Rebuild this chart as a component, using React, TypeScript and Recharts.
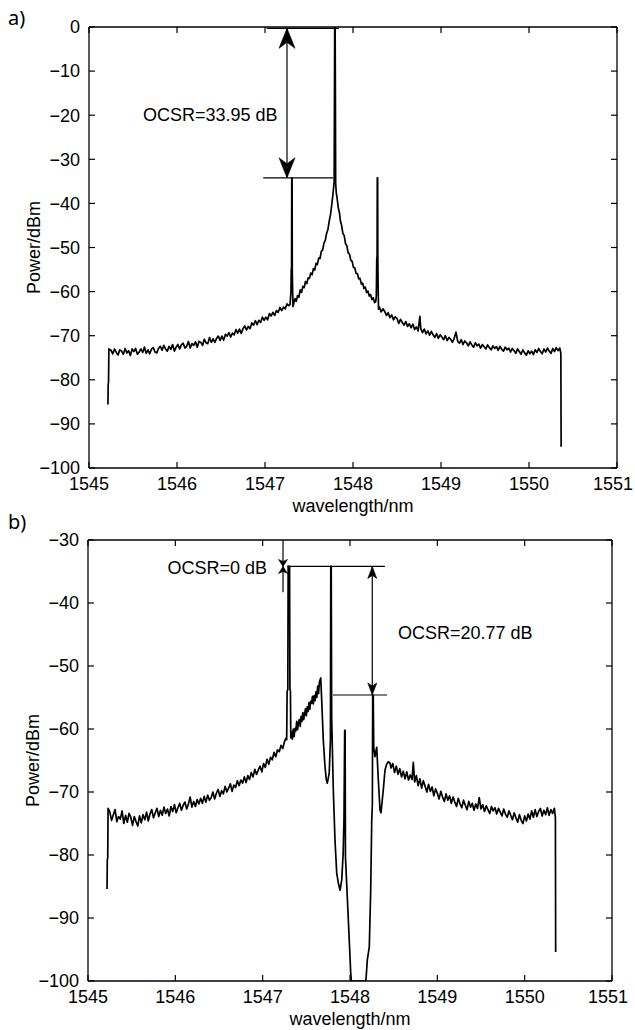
import React from 'react';
import { LineChart, Line, XAxis, YAxis, ReferenceLine, ReferenceDot, Label } from 'recharts';

const FONT = '"Liberation Sans", Arial, Helvetica, sans-serif';

// ---------- tick labels ----------
const wavelengthTicks = [1545, 1546, 1547, 1548, 1549, 1550, 1551];
const powerTicksA = [0, -10, -20, -30, -40, -50, -60, -70, -80, -90, -100];
const powerTicksB = [-30, -40, -50, -60, -70, -80, -90, -100];

// ---------- spectrum a): [wavelength nm, power dBm] ----------
const spectrumA: [number, number][] = [
  [1545.215, -85.6], [1545.218, -81.0], [1545.222, -80.6], [1545.226, -73.0],
  [1545.25, -73.3], [1545.27, -74.1], [1545.29, -73.0], [1545.31, -73.8], [1545.33, -74.4],
  [1545.35, -73.2], [1545.37, -73.5], [1545.39, -74.2], [1545.41, -72.9], [1545.43, -73.9],
  [1545.45, -73.4], [1545.47, -74.5], [1545.49, -73.0], [1545.51, -73.6], [1545.53, -72.9],
  [1545.55, -74.2], [1545.57, -73.7], [1545.59, -73.0], [1545.61, -73.8], [1545.63, -72.6],
  [1545.65, -74.0], [1545.67, -73.2], [1545.69, -74.1], [1545.71, -73.0], [1545.73, -72.7],
  [1545.75, -73.7], [1545.77, -73.9], [1545.79, -72.9], [1545.81, -72.4], [1545.83, -73.3],
  [1545.85, -72.2], [1545.87, -73.0], [1545.89, -73.5], [1545.91, -72.4], [1545.93, -73.1],
  [1545.95, -72.0], [1545.97, -73.5], [1545.99, -72.6], [1546.01, -72.0], [1546.03, -73.0],
  [1546.05, -72.1], [1546.07, -71.7], [1546.09, -72.8], [1546.11, -72.4], [1546.13, -71.3],
  [1546.15, -72.8], [1546.17, -71.8], [1546.19, -72.2], [1546.21, -71.4], [1546.23, -72.6],
  [1546.25, -71.3], [1546.27, -71.5], [1546.29, -72.2], [1546.31, -70.8], [1546.33, -71.6],
  [1546.35, -71.8], [1546.37, -70.4], [1546.39, -71.5], [1546.41, -70.7], [1546.43, -71.5],
  [1546.45, -70.6], [1546.47, -70.1], [1546.49, -71.1], [1546.51, -70.1], [1546.53, -71.0],
  [1546.55, -69.7], [1546.57, -70.1], [1546.59, -69.3], [1546.61, -70.3], [1546.63, -69.4],
  [1546.65, -69.8], [1546.67, -68.6], [1546.69, -69.4], [1546.71, -68.5], [1546.73, -69.5],
  [1546.75, -68.4], [1546.77, -67.8], [1546.79, -68.7], [1546.81, -67.9], [1546.83, -68.4],
  [1546.85, -67.1], [1546.87, -67.6], [1546.89, -66.6], [1546.91, -67.5], [1546.93, -66.5],
  [1546.95, -67.0], [1546.97, -65.8], [1546.99, -66.5], [1547.01, -65.8], [1547.03, -66.4],
  [1547.05, -65.0], [1547.07, -65.5], [1547.09, -64.7], [1547.11, -65.4], [1547.13, -64.3],
  [1547.15, -64.7], [1547.17, -63.6], [1547.19, -64.3], [1547.21, -63.5], [1547.23, -63.9],
  [1547.25, -62.8], [1547.27, -63.2], [1547.285, -62.9],
  [1547.295, -60.0], [1547.298, -55.0], [1547.302, -54.6], [1547.304, -34.2], [1547.308, -34.2],
  [1547.310, -55.2], [1547.314, -59.8], [1547.318, -63.4],
  [1547.325, -62.8], [1547.34, -61.6], [1547.355, -62.2], [1547.37, -60.9], [1547.385, -61.3],
  [1547.40, -59.6], [1547.415, -60.2], [1547.43, -58.8], [1547.445, -59.1], [1547.46, -57.7],
  [1547.475, -58.2], [1547.49, -56.9], [1547.505, -57.0], [1547.52, -55.8], [1547.535, -56.2],
  [1547.55, -54.8], [1547.565, -55.1], [1547.58, -53.6], [1547.595, -53.9], [1547.61, -52.4],
  [1547.625, -52.5], [1547.64, -50.9], [1547.655, -50.6], [1547.67, -49.0], [1547.685, -48.4],
  [1547.70, -46.8], [1547.715, -45.9], [1547.73, -44.0], [1547.745, -42.5], [1547.758, -40.4],
  [1547.77, -38.3], [1547.779, -36.5], [1547.786, -35.0], [1547.789, -18.0],
  [1547.792, -0.2], [1547.797, -0.2], [1547.800, -16.0],
  [1547.803, -35.4], [1547.81, -37.6], [1547.82, -38.9], [1547.832, -40.9], [1547.845, -42.0],
  [1547.858, -44.1], [1547.87, -44.9], [1547.885, -46.8], [1547.90, -47.3], [1547.915, -49.1],
  [1547.93, -49.6], [1547.945, -51.2], [1547.96, -51.5], [1547.975, -52.9], [1547.99, -53.1],
  [1548.005, -54.5], [1548.02, -54.6], [1548.035, -55.9], [1548.05, -55.9], [1548.065, -57.1],
  [1548.08, -57.0], [1548.095, -58.3], [1548.11, -58.1], [1548.125, -59.3], [1548.14, -59.0],
  [1548.155, -60.2], [1548.17, -59.9], [1548.185, -61.0], [1548.20, -60.7], [1548.215, -61.8],
  [1548.23, -61.4], [1548.245, -62.5], [1548.258, -62.3],
  [1548.265, -61.0], [1548.270, -52.5], [1548.274, -52.0], [1548.276, -34.2], [1548.280, -34.2],
  [1548.282, -52.0], [1548.285, -58.0], [1548.290, -64.0],
  [1548.30, -63.5], [1548.32, -64.6], [1548.34, -63.9], [1548.36, -64.5], [1548.38, -65.4],
  [1548.40, -64.8], [1548.42, -65.9], [1548.44, -65.3], [1548.46, -66.4], [1548.48, -65.7],
  [1548.50, -66.1], [1548.52, -67.2], [1548.54, -66.3], [1548.56, -67.0], [1548.58, -67.6],
  [1548.60, -66.8], [1548.62, -67.9], [1548.64, -67.3], [1548.66, -68.2], [1548.68, -67.4],
  [1548.70, -68.6], [1548.72, -68.0], [1548.74, -68.9], [1548.76, -65.6], [1548.77, -68.4],
  [1548.79, -69.3], [1548.81, -68.5], [1548.83, -69.6], [1548.85, -68.9], [1548.87, -69.9],
  [1548.89, -69.0], [1548.91, -69.8], [1548.93, -70.4], [1548.95, -69.5], [1548.97, -70.6],
  [1548.99, -69.8], [1549.01, -70.3], [1549.03, -70.9], [1549.05, -70.0], [1549.07, -71.1],
  [1549.09, -70.4], [1549.11, -70.8], [1549.13, -71.5], [1549.15, -70.6], [1549.17, -69.2],
  [1549.19, -71.3], [1549.21, -71.7], [1549.23, -70.9], [1549.25, -72.0], [1549.27, -71.2],
  [1549.29, -71.6], [1549.31, -72.3], [1549.33, -71.4], [1549.35, -72.1], [1549.37, -72.6],
  [1549.39, -71.6], [1549.41, -72.3], [1549.43, -71.9], [1549.45, -72.8], [1549.47, -72.0],
  [1549.49, -72.5], [1549.51, -73.0], [1549.53, -72.1], [1549.55, -72.7], [1549.57, -73.2],
  [1549.59, -72.3], [1549.61, -72.9], [1549.63, -72.5], [1549.65, -73.3], [1549.67, -72.4],
  [1549.69, -73.1], [1549.71, -73.5], [1549.73, -72.6], [1549.75, -73.2], [1549.77, -72.8],
  [1549.79, -73.7], [1549.81, -72.9], [1549.83, -73.4], [1549.85, -74.0], [1549.87, -73.0],
  [1549.89, -73.6], [1549.91, -74.2], [1549.93, -73.2], [1549.95, -73.9], [1549.97, -74.4],
  [1549.99, -73.4], [1550.01, -74.1], [1550.03, -73.5], [1550.05, -74.3], [1550.07, -73.2],
  [1550.09, -73.8], [1550.11, -72.9], [1550.13, -73.6], [1550.15, -74.1], [1550.17, -73.0],
  [1550.19, -73.7], [1550.21, -72.8], [1550.23, -73.5], [1550.25, -74.0], [1550.27, -72.9],
  [1550.29, -73.6], [1550.31, -72.7], [1550.33, -73.4], [1550.35, -72.8],
  [1550.362, -74.0], [1550.365, -95.2],
];

// ---------- spectrum b): [wavelength nm, power dBm] ----------
const spectrumB: [number, number][] = [
  [1545.218, -85.4], [1545.221, -80.8], [1545.226, -80.5], [1545.230, -72.6],
  [1545.25, -73.2], [1545.27, -74.5], [1545.29, -73.6], [1545.31, -72.8], [1545.33, -74.7],
  [1545.35, -73.9], [1545.37, -74.3], [1545.39, -73.0], [1545.41, -75.0], [1545.43, -73.7],
  [1545.45, -74.8], [1545.47, -73.4], [1545.49, -74.0], [1545.51, -75.3], [1545.53, -73.9],
  [1545.55, -74.7], [1545.57, -75.4], [1545.59, -73.8], [1545.61, -74.9], [1545.63, -73.6],
  [1545.65, -74.4], [1545.67, -73.2], [1545.69, -74.6], [1545.71, -73.5], [1545.73, -72.8],
  [1545.75, -74.1], [1545.77, -73.3], [1545.79, -72.6], [1545.81, -73.9], [1545.83, -72.9],
  [1545.85, -73.7], [1545.87, -72.4], [1545.89, -73.4], [1545.91, -72.7], [1545.93, -73.8],
  [1545.95, -72.3], [1545.97, -73.1], [1545.99, -72.0], [1546.01, -73.3], [1546.03, -72.5],
  [1546.05, -71.8], [1546.07, -72.9], [1546.09, -72.1], [1546.11, -71.6], [1546.13, -72.7],
  [1546.15, -71.9], [1546.17, -70.8], [1546.19, -72.4], [1546.21, -71.5], [1546.23, -72.3],
  [1546.25, -71.2], [1546.27, -71.9], [1546.29, -71.0], [1546.31, -71.8], [1546.33, -70.7],
  [1546.35, -71.6], [1546.37, -70.5], [1546.39, -71.3], [1546.41, -70.9], [1546.43, -70.0],
  [1546.45, -71.1], [1546.47, -70.2], [1546.49, -69.6], [1546.51, -70.7], [1546.53, -69.8],
  [1546.55, -70.3], [1546.57, -69.1], [1546.59, -70.0], [1546.61, -69.4], [1546.63, -68.7],
  [1546.65, -69.9], [1546.67, -68.9], [1546.69, -69.3], [1546.71, -68.2], [1546.73, -69.0],
  [1546.75, -68.1], [1546.77, -68.6], [1546.79, -67.6], [1546.81, -68.5], [1546.83, -67.4],
  [1546.85, -68.0], [1546.87, -66.9], [1546.89, -67.6], [1546.91, -66.4], [1546.93, -67.2],
  [1546.95, -66.5], [1546.97, -65.9], [1546.99, -66.8], [1547.01, -65.5], [1547.03, -66.1],
  [1547.05, -64.8], [1547.07, -65.6], [1547.09, -64.5], [1547.11, -64.9], [1547.13, -63.7],
  [1547.15, -64.4], [1547.17, -63.3], [1547.19, -63.6], [1547.21, -62.6], [1547.23, -63.1],
  [1547.25, -62.0], [1547.265, -61.5],
  [1547.275, -61.7], [1547.280, -54.0], [1547.288, -53.8], [1547.292, -34.2], [1547.308, -34.2],
  [1547.312, -53.6], [1547.318, -54.0], [1547.322, -61.4],
  [1547.33, -60.4], [1547.34, -61.6], [1547.35, -60.0], [1547.36, -61.2], [1547.37, -59.9],
  [1547.38, -60.3], [1547.39, -58.8], [1547.40, -60.1], [1547.41, -59.0], [1547.42, -58.5],
  [1547.43, -59.6], [1547.44, -58.0], [1547.45, -58.8], [1547.46, -57.4], [1547.47, -58.5],
  [1547.48, -57.6], [1547.49, -56.8], [1547.50, -57.9], [1547.51, -56.5], [1547.52, -57.2],
  [1547.53, -55.8], [1547.54, -56.9], [1547.55, -55.6], [1547.56, -55.9], [1547.57, -54.8],
  [1547.58, -56.0], [1547.59, -54.7], [1547.60, -55.5], [1547.61, -54.1], [1547.62, -55.0],
  [1547.63, -53.2], [1547.64, -54.4], [1547.65, -52.5], [1547.665, -51.9],
  [1547.676, -55.4], [1547.694, -61.7], [1547.714, -66.0], [1547.728, -68.0], [1547.74, -68.6],
  [1547.762, -67.0], [1547.776, -61.7], [1547.780, -34.2], [1547.785, -34.2], [1547.790, -58.0],
  [1547.809, -69.7], [1547.828, -77.6], [1547.848, -82.9], [1547.866, -84.4], [1547.886, -85.6],
  [1547.905, -84.0], [1547.922, -79.7], [1547.931, -74.4], [1547.939, -60.2], [1547.944, -60.2],
  [1547.948, -80.3], [1547.981, -90.3], [1548.008, -98.7], [1548.016, -100.0],
  [1548.182, -100.0], [1548.198, -96.7], [1548.221, -94.6], [1548.237, -85.6], [1548.249, -74.4],
  [1548.256, -72.0], [1548.260, -54.6], [1548.266, -54.6], [1548.272, -63.0], [1548.286, -64.4],
  [1548.306, -62.9], [1548.324, -68.0], [1548.344, -72.9], [1548.355, -73.3], [1548.381, -69.7],
  [1548.401, -66.5], [1548.42, -65.6], [1548.439, -65.2], [1548.458, -65.4],
  [1548.47, -66.2], [1548.49, -65.5], [1548.51, -66.9], [1548.53, -65.9], [1548.55, -67.2],
  [1548.57, -66.3], [1548.59, -67.6], [1548.61, -66.7], [1548.63, -67.9], [1548.65, -66.8],
  [1548.67, -68.1], [1548.69, -67.3], [1548.71, -68.0], [1548.725, -65.3], [1548.74, -68.4],
  [1548.76, -67.4], [1548.78, -69.0], [1548.80, -67.9], [1548.82, -69.4], [1548.84, -68.2],
  [1548.86, -69.1], [1548.88, -70.0], [1548.90, -68.8], [1548.92, -69.9], [1548.94, -69.2],
  [1548.96, -70.6], [1548.98, -69.5], [1549.00, -70.2], [1549.02, -71.1], [1549.04, -69.9],
  [1549.06, -70.8], [1549.08, -71.5], [1549.10, -70.3], [1549.12, -71.3], [1549.14, -70.6],
  [1549.16, -71.8], [1549.18, -70.8], [1549.20, -71.6], [1549.22, -72.3], [1549.24, -71.0],
  [1549.26, -71.9], [1549.28, -72.5], [1549.30, -71.3], [1549.32, -72.1], [1549.34, -72.8],
  [1549.36, -71.5], [1549.38, -72.4], [1549.40, -71.8], [1549.42, -72.9], [1549.44, -71.9],
  [1549.46, -72.6], [1549.48, -70.9], [1549.50, -72.7], [1549.52, -72.0], [1549.54, -73.1],
  [1549.56, -72.2], [1549.58, -72.8], [1549.60, -73.4], [1549.62, -72.3], [1549.64, -73.0],
  [1549.66, -72.5], [1549.68, -73.5], [1549.70, -72.6], [1549.72, -73.2], [1549.74, -73.8],
  [1549.76, -72.7], [1549.78, -73.5], [1549.80, -74.0], [1549.82, -73.0], [1549.84, -73.7],
  [1549.86, -74.4], [1549.88, -73.3], [1549.90, -74.1], [1549.92, -74.8], [1549.94, -73.6],
  [1549.96, -74.5], [1549.98, -75.0], [1550.00, -73.8], [1550.02, -74.6], [1550.04, -73.5],
  [1550.06, -74.3], [1550.08, -73.0], [1550.10, -74.0], [1550.12, -72.8], [1550.14, -73.9],
  [1550.16, -73.1], [1550.18, -72.6], [1550.20, -73.8], [1550.22, -72.9], [1550.24, -73.6],
  [1550.26, -72.5], [1550.28, -73.7], [1550.30, -72.8], [1550.32, -73.4], [1550.34, -72.6],
  [1550.352, -74.1], [1550.355, -95.4],
];

const rowsA = spectrumA.map(([x, y]) => ({ x, y }));
const rowsB = spectrumB.map(([x, y]) => ({ x, y }));

const fmtPower = (v: number) => (v === 0 ? '0' : (v < 0 ? '\u2212' : '') + Math.abs(v));
const blank = () => '';

const arrowHead = (dir: 'up' | 'down', w: number, h: number, notch: number) => (props: any) => {
  const { cx, cy } = props;
  if (cx == null || cy == null) return <g />;
  const s = dir === 'down' ? -1 : 1;
  const d = `M${cx},${cy} L${cx - w / 2},${cy + s * h} L${cx},${cy + s * (h - notch)} L${cx + w / 2},${cy + s * h} Z`;
  return <path d={d} fill="#000" stroke="#000" strokeWidth={0.6} strokeLinejoin="miter" />;
};

const textShape = (value: string, anchor: 'start' | 'end') => (props: any) => {
  const { cx, cy } = props;
  if (cx == null || cy == null) return <g />;
  return (
    <text x={cx} y={cy} textAnchor={anchor} dominantBaseline="central" fontSize={18} fontFamily={FONT} fill="#000">
      {value}
    </text>
  );
};

const yLabel = (props: any) => {
  const vb = props.viewBox || {};
  const x = vb.x - 5;
  const y = vb.y + vb.height / 2;
  return (
    <text x={x} y={y} transform={`rotate(-90, ${x}, ${y})`} textAnchor="middle" dominantBaseline="central" fontSize={18} fontFamily={FONT} fill="#000">
      Power/dBm
    </text>
  );
};

const xLabel = (props: any) => {
  const vb = props.viewBox || {};
  return (
    <text x={vb.x + vb.width / 2} y={vb.y + 38} textAnchor="middle" dominantBaseline="central" fontSize={18} fontFamily={FONT} fill="#000">
      wavelength/nm
    </text>
  );
};

const xTick = (props: any) => {
  const { x, y, payload } = props;
  const last = payload && payload.value === wavelengthTicks[wavelengthTicks.length - 1];
  return (
    <text x={x + (last ? -4 : 0)} y={y} dy="0.71em" textAnchor="middle" fontSize={18} fontFamily={FONT} fill="#000">
      {payload.value}
    </text>
  );
};

const tickStyle = { fill: '#000', fontSize: 18, fontFamily: FONT };
const frame = { stroke: '#000', strokeWidth: 1.3 };
const annLine = { stroke: '#000', strokeWidth: 1.2 };

function axes(yDomain: number[], yTicks: number[]) {
  return [
    <XAxis key="xb" xAxisId="b" type="number" dataKey="x" domain={[1545, 1551]} ticks={wavelengthTicks}
      allowDataOverflow orientation="bottom" height={45} tickLine={false} tickSize={6} tickMargin={3}
      axisLine={frame} tick={xTick} interval={0}>
      <Label content={xLabel} />
    </XAxis>,
    <XAxis key="xbm" xAxisId="bm" type="number" dataKey="x" domain={[1545, 1551]} ticks={wavelengthTicks}
      allowDataOverflow orientation="bottom" mirror axisLine={false} tickSize={6} tickFormatter={blank}
      tickLine={{ stroke: '#000', strokeWidth: 1.2 }} interval={0} />,
    <XAxis key="xt" xAxisId="t" type="number" dataKey="x" domain={[1545, 1551]} ticks={wavelengthTicks}
      allowDataOverflow orientation="top" mirror axisLine={frame} tickSize={6} tickFormatter={blank}
      tickLine={{ stroke: '#000', strokeWidth: 1.2 }} interval={0} />,
    <YAxis key="yl" yAxisId="l" type="number" domain={yDomain} ticks={yTicks} allowDataOverflow
      orientation="left" width={50} tickLine={false} tickSize={6} tickMargin={3} axisLine={frame}
      tick={tickStyle} tickFormatter={fmtPower} interval={0}>
      <Label content={yLabel} />
    </YAxis>,
    <YAxis key="ylm" yAxisId="lm" type="number" domain={yDomain} ticks={yTicks} allowDataOverflow
      orientation="left" mirror axisLine={false} tickSize={6} tickFormatter={blank} interval={0}
      tickLine={{ stroke: '#000', strokeWidth: 1.2 }} />,
    <YAxis key="yr" yAxisId="r" type="number" domain={yDomain} ticks={yTicks} allowDataOverflow
      orientation="right" mirror axisLine={frame} tickSize={6} tickFormatter={blank} interval={0}
      tickLine={{ stroke: '#000', strokeWidth: 1.2 }} />,
  ];
}

const ids = { xAxisId: 'b', yAxisId: 'l' };

export default function App() {
  return (
    <div style={{ position: 'absolute', left: 0, top: 0, width: 635, height: 1030, background: '#fff', overflow: 'hidden' }}>
      <div style={{ position: 'absolute', left: 0, top: 0 }}>
        <LineChart width={635} height={520} data={rowsA} margin={{ top: 27, right: 18, left: 39, bottom: 7 }}>
          {axes([-100, 0], powerTicksA)}
          <Line {...ids} type="linear" dataKey="y" stroke="#000" strokeWidth={1.7} dot={false} activeDot={false}
            isAnimationActive={false} strokeLinejoin="round" />
          <ReferenceLine {...ids} segment={[{ x: 1547.02, y: -0.3 }, { x: 1547.84, y: -0.3 }]} {...annLine} ifOverflow="visible" />
          <ReferenceLine {...ids} segment={[{ x: 1546.98, y: -34.2 }, { x: 1547.775, y: -34.2 }]} {...annLine} ifOverflow="visible" />
          <ReferenceLine {...ids} segment={[{ x: 1547.25, y: -0.3 }, { x: 1547.25, y: -34.2 }]} {...annLine} ifOverflow="visible" />
          <ReferenceDot {...ids} x={1547.25} y={-0.3} r={0} shape={arrowHead('up', 16, 20, 6)} ifOverflow="visible" />
          <ReferenceDot {...ids} x={1547.25} y={-34.2} r={0} shape={arrowHead('down', 16, 20, 6)} ifOverflow="visible" />
          <ReferenceDot {...ids} x={1545.614} y={-20} r={0} shape={textShape('OCSR=33.95 dB', 'start')} ifOverflow="visible" />
        </LineChart>
      </div>
      <div style={{ position: 'absolute', left: 0, top: 520 }}>
        <LineChart width={635} height={510} data={rowsB} margin={{ top: 20, right: 23, left: 38, bottom: 4 }}>
          {axes([-100, -30], powerTicksB)}
          <Line {...ids} type="linear" dataKey="y" stroke="#000" strokeWidth={1.7} dot={false} activeDot={false}
            isAnimationActive={false} strokeLinejoin="round" />
          <ReferenceLine {...ids} segment={[{ x: 1547.28, y: -34.2 }, { x: 1548.40, y: -34.2 }]} {...annLine} ifOverflow="visible" />
          <ReferenceLine {...ids} segment={[{ x: 1547.805, y: -54.6 }, { x: 1548.424, y: -54.6 }]} {...annLine} ifOverflow="visible" />
          <ReferenceLine {...ids} segment={[{ x: 1547.233, y: -30 }, { x: 1547.233, y: -38.3 }]} {...annLine} ifOverflow="visible" />
          <ReferenceDot {...ids} x={1547.233} y={-34.2} r={0} shape={arrowHead('down', 9, 7, 2)} ifOverflow="visible" />
          <ReferenceDot {...ids} x={1547.233} y={-34.2} r={0} shape={arrowHead('up', 9, 7, 2)} ifOverflow="visible" />
          <ReferenceLine {...ids} segment={[{ x: 1548.255, y: -34.2 }, { x: 1548.255, y: -54.6 }]} {...annLine} ifOverflow="visible" />
          <ReferenceDot {...ids} x={1548.255} y={-34.2} r={0} shape={arrowHead('up', 9, 12, 3)} ifOverflow="visible" />
          <ReferenceDot {...ids} x={1548.255} y={-54.6} r={0} shape={arrowHead('down', 9, 12, 3)} ifOverflow="visible" />
          <ReferenceDot {...ids} x={1547.05} y={-34.45} r={0} shape={textShape('OCSR=0 dB', 'end')} ifOverflow="visible" />
          <ReferenceDot {...ids} x={1548.55} y={-44.8} r={0} shape={textShape('OCSR=20.77 dB', 'start')} ifOverflow="visible" />
        </LineChart>
      </div>
      <svg width={635} height={1030} style={{ position: 'absolute', left: 0, top: 0, pointerEvents: 'none' }}>
        <text x={8} y={25} fontSize={20} fontFamily='"Noto Sans", "Open Sans", sans-serif' fill="#000">a)</text>
        <text x={8} y={529} fontSize={20} fontFamily='"Noto Sans", "Open Sans", sans-serif' fill="#000">b)</text>
      </svg>
    </div>
  );
}
